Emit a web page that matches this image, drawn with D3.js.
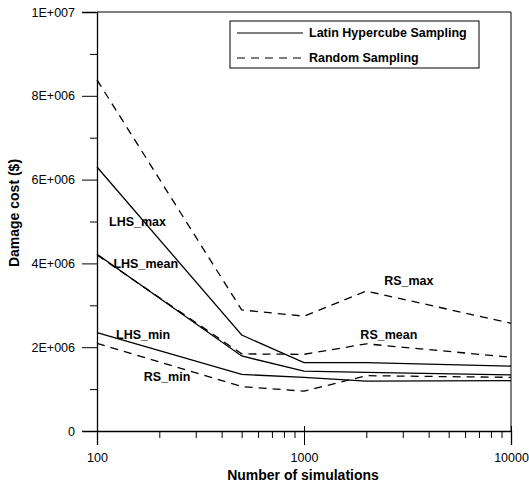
<!DOCTYPE html>
<html><head><meta charset="utf-8">
<script src="https://cdn.jsdelivr.net/npm/d3@7"></script>
<style>body{margin:0;background:#fff}svg{display:block}text{font-family:Arial,"Liberation Sans",sans-serif;fill:#000}</style>
</head><body><svg id="c" width="529" height="487"></svg>
<script>
const simulations = [100, 500, 1000, 2000, 10000];
const lhsMax  = [6.30e6, 2.29e6, 1.63e6, 1.63e6, 1.55e6];
const lhsMean = [4.22e6, 1.79e6, 1.43e6, 1.40e6, 1.34e6];
const lhsMin  = [2.35e6, 1.35e6, 1.28e6, 1.19e6, 1.20e6];
const rsMax   = [8.38e6, 2.89e6, 2.74e6, 3.34e6, 2.57e6];
const rsMean  = [4.20e6, 1.84e6, 1.83e6, 2.08e6, 1.76e6];
const rsMin   = [2.09e6, 1.06e6, 0.95e6, 1.32e6, 1.28e6];
const yTicks = [0, 2e6, 4e6, 6e6, 8e6, 1e7];
const yTickLabels = ["0", "2E+006", "4E+006", "6E+006", "8E+006", "1E+007"];
const xTicks = [100, 1000, 10000];
const legendItems = ["Latin Hypercube Sampling", "Random Sampling"];
const seriesLabels = [
  {t:"LHS_max", x:157, v:5.0e6},
  {t:"LHS_mean", x:172, v:4.0e6},
  {t:"LHS_min", x:167, v:2.29e6},
  {t:"RS_min", x:218, v:1.29e6},
  {t:"RS_max", x:3210, v:3.58e6},
  {t:"RS_mean", x:2570, v:2.29e6}
];

const svg = d3.select("#c");
const L=97, R=511, T=12, B=431;
const x = d3.scaleLog().domain([100,10000]).range([L,R]);
const y = d3.scaleLinear().domain([0,1e7]).range([B,T]);

// frame top/right
svg.append("path").attr("d",`M${L},${T}H${R}V${B}`).attr("fill","none").attr("stroke","#000").attr("stroke-width",1);

// y axis
const ya = svg.append("g").attr("transform",`translate(${L},0)`)
  .call(d3.axisLeft(y).tickValues(yTicks).tickFormat((d,i)=>yTickLabels[i]).tickSize(15).tickPadding(7));
ya.select(".domain").attr("stroke-width",1.3);
ya.selectAll("text").style("font-size","12.5px").style("font-family","Arial,'Liberation Sans',sans-serif");
svg.append("g").attr("transform",`translate(${L},0)`)
  .call(d3.axisLeft(y).tickValues([1e6,3e6,5e6,7e6,9e6]).tickFormat("").tickSize(7))
  .select(".domain").remove();

// x axis
const xa = svg.append("g").attr("transform",`translate(0,${B})`)
  .call(d3.axisBottom(x).tickValues(xTicks).tickFormat(d3.format("d")).tickSize(14).tickPadding(8));
xa.select(".domain").attr("stroke-width",1.3);
xa.selectAll(".tick line").attr("y1",-5);
xa.selectAll("text").style("font-size","12.5px").style("font-family","Arial,'Liberation Sans',sans-serif");
const minorX = [];
[100,1000].forEach(b=>{for(let k=2;k<=9;k++) minorX.push(b*k);});
svg.append("g").attr("transform",`translate(0,${B})`)
  .call(d3.axisBottom(x).tickValues(minorX).tickFormat("").tickSize(7))
  .select(".domain").remove();

// titles
svg.append("text").attr("x",303).attr("y",480).attr("text-anchor","middle")
  .style("font-size","14px").style("font-weight","bold").text("Number of simulations");
svg.append("text").attr("transform","translate(19,213) rotate(-90)").attr("text-anchor","middle")
  .style("font-size","14px").style("font-weight","bold").text("Damage cost ($)");

// lines
const line = d3.line().x((d,i)=>x(simulations[i])).y(d=>y(d));
const solid = [lhsMax, lhsMean, lhsMin];
const dashed = [rsMax, rsMean, rsMin];
solid.forEach(s=>svg.append("path").attr("d",line(s)).attr("fill","none").attr("stroke","#000").attr("stroke-width",1.3));
dashed.forEach(s=>svg.append("path").attr("d",line(s)).attr("fill","none").attr("stroke","#000").attr("stroke-width",1.3).attr("stroke-dasharray","8,6"));

// series labels
seriesLabels.forEach(l=>svg.append("text").attr("x",x(l.x)).attr("y",y(l.v)).attr("text-anchor","middle")
  .attr("dy","0.35em").style("font-size","12.5px").style("font-weight","bold").text(l.t));

// legend
const lg = svg.append("g");
lg.append("rect").attr("x",230).attr("y",21).attr("width",249).attr("height",47).attr("fill","#fff").attr("stroke","#000").attr("stroke-width",1);
legendItems.forEach((t,i)=>{
  const yy = 33 + i*25;
  lg.append("line").attr("x1",237).attr("x2",303).attr("y1",yy).attr("y2",yy).attr("stroke","#000").attr("stroke-width",1.2)
    .attr("stroke-dasharray", i===1 ? "8,6" : null);
  lg.append("text").attr("x",309).attr("y",yy).attr("dy","0.35em").style("font-size","12.5px").style("font-weight","bold").text(t);
});
</script></body></html>
